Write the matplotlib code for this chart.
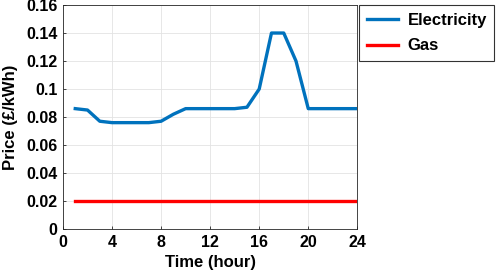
import matplotlib
matplotlib.use("Agg")
import matplotlib.pyplot as plt

plt.rcParams['font.family'] = ['Liberation Sans', 'DejaVu Sans']
plt.rcParams['font.weight'] = 'bold'

hours = list(range(1, 25))
electricity = [0.086, 0.085, 0.077, 0.076, 0.076, 0.076, 0.076, 0.077, 0.082, 0.086,
               0.086, 0.086, 0.086, 0.086, 0.087, 0.100, 0.140, 0.140, 0.120, 0.086,
               0.086, 0.086, 0.086, 0.086]
gas = [0.02] * 24
xticks = [0, 4, 8, 12, 16, 20, 24]
yticks = [0, 0.02, 0.04, 0.06, 0.08, 0.1, 0.12, 0.14, 0.16]
ytick_labels = ['0', '0.02', '0.04', '0.06', '0.08', '0.1', '0.12', '0.14', '0.16']

fig = plt.figure(figsize=(4.98, 2.79), dpi=100)
ax = fig.add_axes([0.1265, 0.179, 0.591, 0.803])
l1, = ax.plot(hours, electricity, color='#0072BD', lw=2.4, label='Electricity')
l2, = ax.plot(hours, gas, color='#FF0000', lw=2.4, label='Gas')
ax.set_xlim(0, 24)
ax.set_ylim(0, 0.16)
ax.set_xticks(xticks)
ax.set_yticks(yticks)
ax.set_yticklabels(ytick_labels)
ax.tick_params(direction='in', length=2.5, labelsize=11.5, color='#262626', width=0.6, pad=4)
for lab in ax.get_xticklabels() + ax.get_yticklabels():
    lab.set_fontweight('bold')
ax.grid(True, color='#e3e3e3', lw=0.6)
ax.set_axisbelow(True)
for s in ax.spines.values():
    s.set_color('#262626')
    s.set_linewidth(0.6)
ax.set_xlabel('Time (hour)', fontsize=12, fontweight='bold', labelpad=4)
ax.set_ylabel('Price (£/kWh)', fontsize=12, fontweight='bold', labelpad=6)

leg = fig.legend(handles=[l1, l2], loc='upper left', bbox_to_anchor=(0.721, 0.982),
                 fontsize=12, frameon=True, fancybox=False, edgecolor='black',
                 handlelength=1.86, handletextpad=0.6, borderaxespad=0, borderpad=0.45,
                 labelspacing=0.65)
leg.get_frame().set_linewidth(0.8)
for t in leg.get_texts():
    t.set_fontweight('bold')

fig.savefig('out.png', dpi=100)
